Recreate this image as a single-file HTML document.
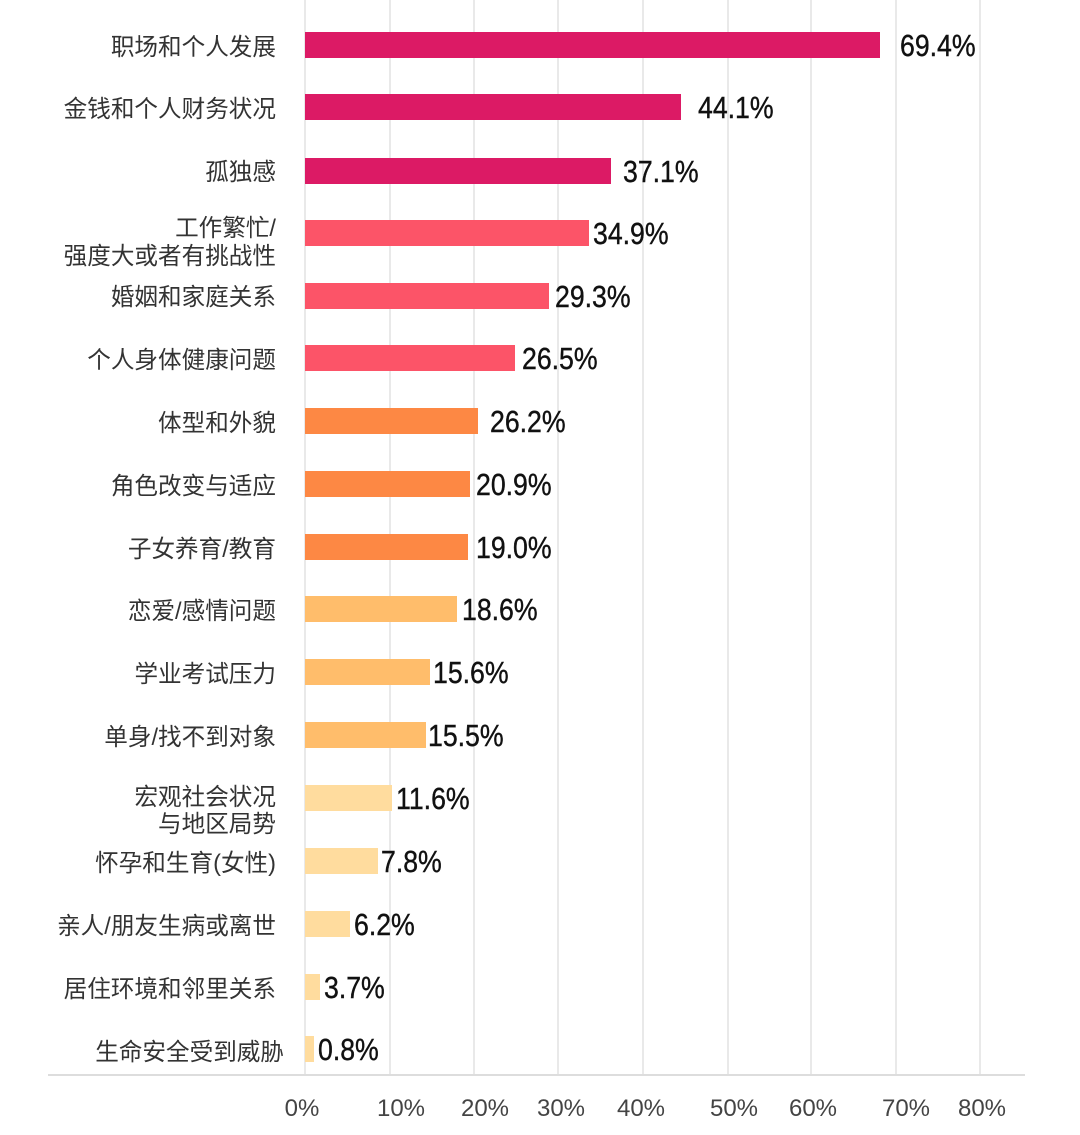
<!DOCTYPE html>
<html><head><meta charset="utf-8"><style>
html,body{margin:0;padding:0;background:#fff;}
svg{display:block;}
.c{font-family:"Liberation Sans","Noto Sans CJK SC",sans-serif;font-size:23.6px;fill:#333;}
.v{font-family:"Liberation Sans",sans-serif;font-size:31px;fill:#111;stroke:#111;stroke-width:0.4px;}
.t{font-family:"Liberation Sans",sans-serif;font-size:24px;fill:#444;}
</style></head><body>
<svg width="1080" height="1135" viewBox="0 0 1080 1135" xmlns="http://www.w3.org/2000/svg">
<g stroke="#e2e2e2" stroke-width="1.5">
<line x1="305" y1="0" x2="305" y2="1075"/>
<line x1="390" y1="0" x2="390" y2="1075"/>
<line x1="474" y1="0" x2="474" y2="1075"/>
<line x1="558" y1="0" x2="558" y2="1075"/>
<line x1="643" y1="0" x2="643" y2="1075"/>
<line x1="728" y1="0" x2="728" y2="1075"/>
<line x1="811" y1="0" x2="811" y2="1075"/>
<line x1="896" y1="0" x2="896" y2="1075"/>
<line x1="980" y1="0" x2="980" y2="1075"/>
</g>
<line x1="48" y1="1075" x2="1025" y2="1075" stroke="#ddd" stroke-width="2"/>
<g id="bars">
<rect x="305" y="32" width="575" height="26" fill="#dc1a65"/>
<rect x="305" y="94" width="376" height="26" fill="#dc1a65"/>
<rect x="305" y="158" width="306" height="26" fill="#dc1a65"/>
<rect x="305" y="220" width="284" height="26" fill="#fc5468"/>
<rect x="305" y="283" width="244" height="26" fill="#fc5468"/>
<rect x="305" y="345" width="210" height="26" fill="#fc5468"/>
<rect x="305" y="408" width="173" height="26" fill="#fd8844"/>
<rect x="305" y="471" width="165" height="26" fill="#fd8844"/>
<rect x="305" y="534" width="163" height="26" fill="#fd8844"/>
<rect x="305" y="596" width="152" height="26" fill="#ffbd6b"/>
<rect x="305" y="659" width="125" height="26" fill="#ffbd6b"/>
<rect x="305" y="722" width="121" height="26" fill="#ffbd6b"/>
<rect x="305" y="785" width="87" height="26" fill="#ffdc9e"/>
<rect x="305" y="848" width="73" height="26" fill="#ffdc9e"/>
<rect x="305" y="911" width="45" height="26" fill="#ffdc9e"/>
<rect x="305" y="974" width="15" height="26" fill="#ffdc9e"/>
<rect x="305" y="1036" width="9" height="26" fill="#ffdc9e"/>
</g>
<g class="c" text-anchor="end">
<text x="276" y="55">职场和个人发展</text>
<text x="276" y="117">金钱和个人财务状况</text>
<text x="276" y="180">孤独感</text>
<text x="276" y="236">工作繁忙/</text>
<text x="276" y="264">强度大或者有挑战性</text>
<text x="276" y="305">婚姻和家庭关系</text>
<text x="276" y="368">个人身体健康问题</text>
<text x="276" y="431">体型和外貌</text>
<text x="276" y="494">角色改变与适应</text>
<text x="276" y="557">子女养育/教育</text>
<text x="276" y="619">恋爱/感情问题</text>
<text x="276" y="682">学业考试压力</text>
<text x="276" y="745">单身/找不到对象</text>
<text x="276" y="805">宏观社会状况</text>
<text x="276" y="832">与地区局势</text>
<text x="276" y="871">怀孕和生育(女性)</text>
<text x="276" y="934">亲人/朋友生病或离世</text>
<text x="276" y="997">居住环境和邻里关系</text>
<text x="284" y="1060">生命安全受到威胁</text>
</g>
<g class="v">
<text transform="translate(900,56) scale(0.86,1)">69.4%</text>
<text transform="translate(698,118) scale(0.86,1)">44.1%</text>
<text transform="translate(623,182) scale(0.86,1)">37.1%</text>
<text transform="translate(593,244) scale(0.86,1)">34.9%</text>
<text transform="translate(555,307) scale(0.86,1)">29.3%</text>
<text transform="translate(522,369) scale(0.86,1)">26.5%</text>
<text transform="translate(490,432) scale(0.86,1)">26.2%</text>
<text transform="translate(476,495) scale(0.86,1)">20.9%</text>
<text transform="translate(476,558) scale(0.86,1)">19.0%</text>
<text transform="translate(462,620) scale(0.86,1)">18.6%</text>
<text transform="translate(433,683) scale(0.86,1)">15.6%</text>
<text transform="translate(428,746) scale(0.86,1)">15.5%</text>
<text transform="translate(396,809) scale(0.86,1)">11.6%</text>
<text transform="translate(381,872) scale(0.86,1)">7.8%</text>
<text transform="translate(354,935) scale(0.86,1)">6.2%</text>
<text transform="translate(324,998) scale(0.86,1)">3.7%</text>
<text transform="translate(318,1060) scale(0.86,1)">0.8%</text>
</g>
<g class="t" text-anchor="middle">
<text x="302" y="1116">0%</text>
<text x="401" y="1116">10%</text>
<text x="485" y="1116">20%</text>
<text x="561" y="1116">30%</text>
<text x="641" y="1116">40%</text>
<text x="734" y="1116">50%</text>
<text x="813" y="1116">60%</text>
<text x="906" y="1116">70%</text>
<text x="982" y="1116">80%</text>
</g>
</svg>
</body></html>
